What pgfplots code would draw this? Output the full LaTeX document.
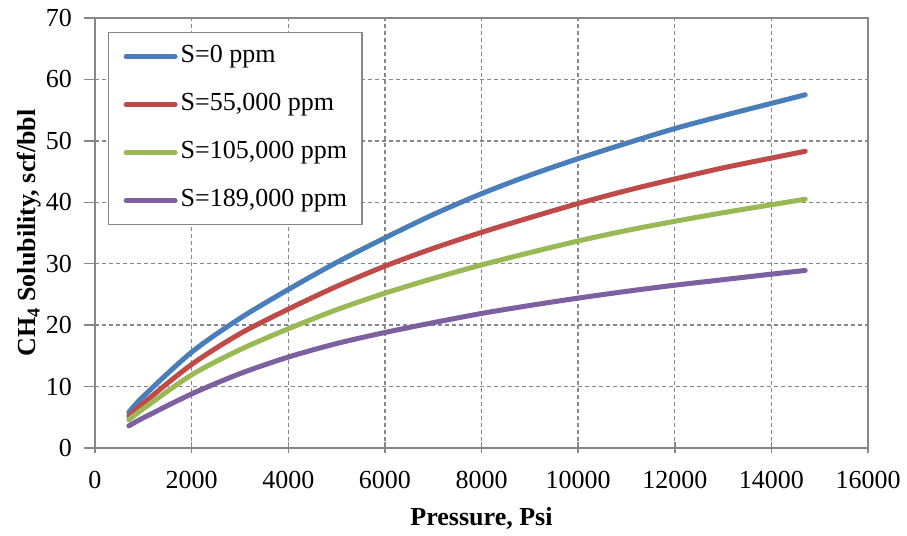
\documentclass[border=0pt]{standalone}
\usepackage{pgfplots}
\pgfplotsset{compat=1.18}
\usepackage{fontspec}
\setmainfont{Liberation Serif}
\usetikzlibrary{calc}
\definecolor{cblue}{HTML}{4A7EBB}
\definecolor{cred}{HTML}{BE4B48}
\definecolor{cgreen}{HTML}{98B954}
\definecolor{cpurple}{HTML}{7D60A0}
\definecolor{gridc}{HTML}{878787}
\begin{document}
\begin{tikzpicture}
\begin{axis}[
  name=ax,
  scale only axis,
  width=773bp, height=430bp,
  xmin=0, xmax=16000, ymin=0, ymax=70,
  xtick={0,2000,...,16000}, ytick={0,10,...,70},
  scaled x ticks=false,
  xtick pos=bottom, ytick pos=left,
  xtick align=center, ytick align=outside,
  major tick length=11bp,
  tick style={gridc, line width=1.5bp},
  axis line style={gridc, line width=1.5bp},
  grid=major,
  major grid style={gridc, line width=1.3bp, dash pattern=on 4bp off 3bp},
  /pgf/number format/1000 sep={},
  /pgf/number format/assume math mode=true,
  tick label style={font=\fontsize{26bp}{31bp}\selectfont, inner sep=0pt},
  xticklabel shift=17.5bp,
  yticklabel shift=12bp,
  every axis x label/.style={at={(axis description cs:0.5,0)}, anchor=base, yshift=-78bp, font=\fontsize{26bp}{31bp}\selectfont\bfseries},
  every axis y label/.style={at={(axis description cs:0,0.5)}, xshift=-59bp, rotate=90, anchor=base, font=\fontsize{26bp}{31bp}\selectfont\bfseries},
  xlabel={Pressure, Psi},
  ylabel={CH\textsubscript{4} Solubility, scf/bbl},
  legend cell align=left,
  legend style={
    at={(axis description cs:0.0168,0.9674)}, anchor=north west,
    draw=gridc, line width=1.3bp, fill=white,
    font=\fontsize{26bp}{31bp}\selectfont,
    inner xsep=15bp, inner ysep=12bp,
    row sep=24bp, column sep=3bp,
    nodes={inner sep=0pt, text height=18bp, text depth=6bp},
  },
  legend image code/.code={\draw[#1, line width=5bp, line cap=round] (2.5bp,0bp) -- (51.5bp,0bp);},
  every axis plot/.append style={line width=5bp, line cap=round, line join=round, smooth},
]
\addplot[cblue] coordinates {
(700,5.8) (1000,8.4) (2000,15.6) (3000,21.1) (4000,25.8) (5000,30.2) (6000,34.2) (7000,38.0) (8000,41.4) (9000,44.4) (10000,47.1) (11000,49.6) (12000,52.0) (13000,54.1) (14000,56.1) (14700,57.5)};
\addlegendentry{S=0 ppm}
\addplot[cred] coordinates {
(700,5.2) (1000,7.3) (2000,13.6) (3000,18.6) (4000,22.6) (5000,26.3) (6000,29.6) (7000,32.5) (8000,35.1) (9000,37.5) (10000,39.8) (11000,41.9) (12000,43.8) (13000,45.6) (14000,47.2) (14700,48.3)};
\addlegendentry{S=55,000 ppm}
\addplot[cgreen] coordinates {
(700,4.6) (1000,6.4) (2000,11.9) (3000,16.0) (4000,19.4) (5000,22.5) (6000,25.2) (7000,27.6) (8000,29.8) (9000,31.8) (10000,33.7) (11000,35.4) (12000,36.9) (13000,38.3) (14000,39.6) (14700,40.5)};
\addlegendentry{S=105,000 ppm}
\addplot[cpurple] coordinates {
(700,3.6) (1000,4.9) (2000,8.8) (3000,12.1) (4000,14.8) (5000,17.0) (6000,18.8) (7000,20.4) (8000,21.9) (9000,23.2) (10000,24.4) (11000,25.5) (12000,26.5) (13000,27.4) (14000,28.3) (14700,28.9)};
\addlegendentry{S=189,000 ppm}
\end{axis}
\pgfresetboundingbox
\useasboundingbox ($(ax.south west)+(-95bp,-88bp)$) rectangle ($(ax.north east)+(39bp,18bp)$);
\end{tikzpicture}
\end{document}
